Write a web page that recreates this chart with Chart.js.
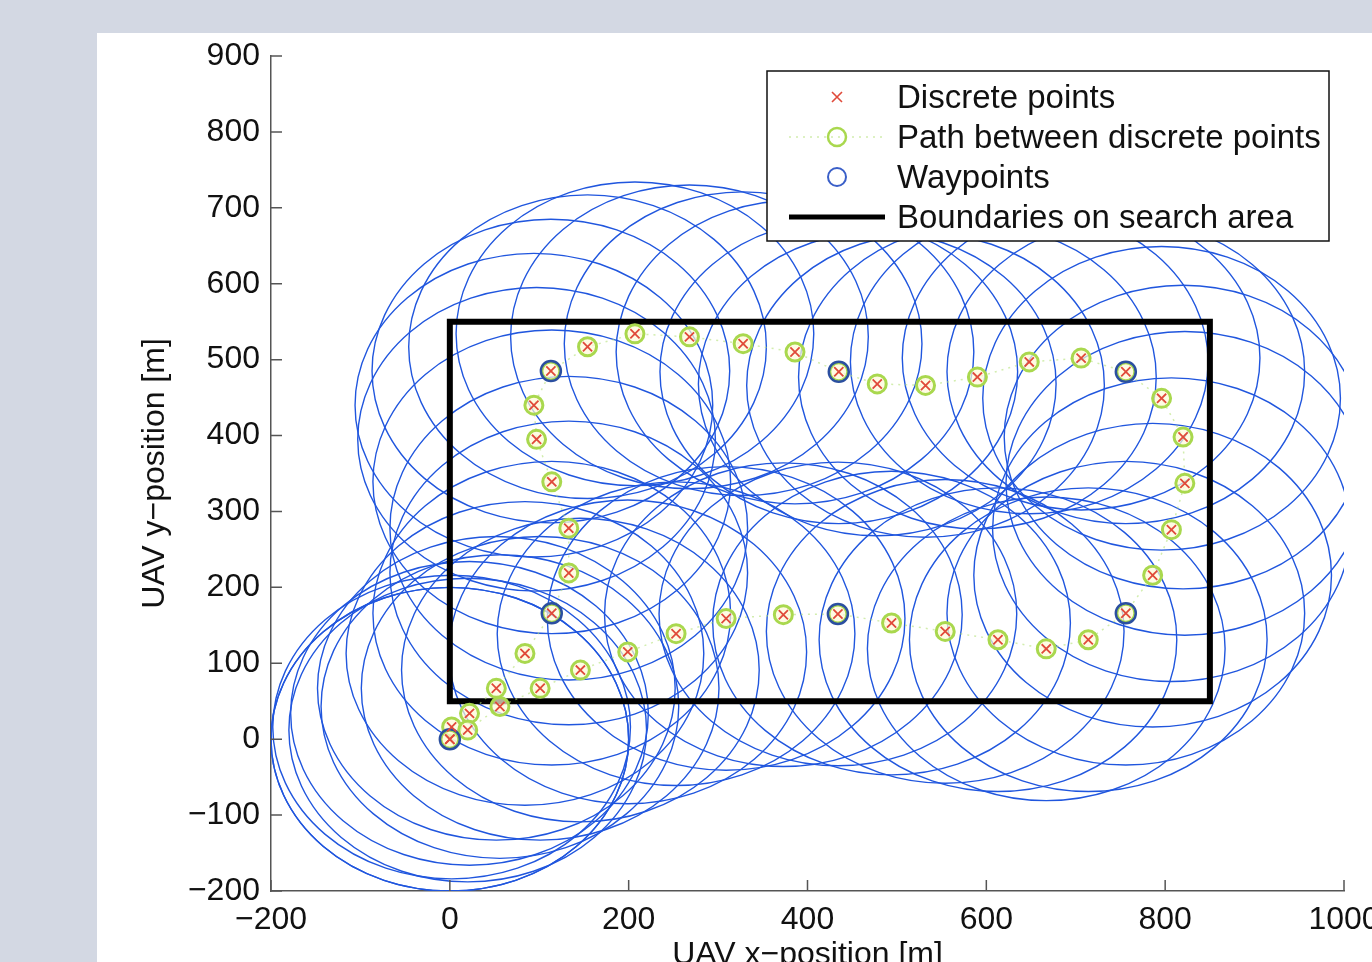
<!DOCTYPE html>
<html>
<head>
<meta charset="utf-8">
<script src="https://cdn.jsdelivr.net/npm/chart.js@4.4.1/dist/chart.umd.min.js"></script>
<style>
html, body { margin: 0; padding: 0; width: 1372px; height: 962px; overflow: hidden; background: #d3d8e3; }
#panel { position: absolute; left: 97px; top: 33px; width: 1320px; height: 990px; background: #fff; }
</style>
</head>
<body>
<div id="panel"><canvas id="grafik" width="1320" height="990"></canvas></div>
<script>
const xTicks = [-200, 0, 200, 400, 600, 800, 1000];
const yTicks = [-200, -100, 0, 100, 200, 300, 400, 500, 600, 700, 800, 900];

// discrete points along the path (m), in flight order
const titikX = [0, 2, 22, 52, 84, 114, 133, 133, 114, 97, 94, 113, 154, 207, 268, 328, 386, 435,
    478, 532, 590, 648, 706, 756, 796, 820, 822, 807, 786, 756, 714, 667, 613, 554, 494, 434,
    373, 309, 253, 199, 146, 101, 56, 20, 0];
const titikY = [0, 16, 34, 67, 113, 166, 219, 278, 339, 395, 440, 485, 517, 534, 530, 521, 510, 484,
    468, 466, 477, 497, 502, 484, 449, 398, 337, 276, 216, 166, 131, 119, 131, 142, 153, 165,
    164, 159, 139, 115, 91, 67, 43, 12, 0];

const waypointX = [0, 114, 113, 435, 756, 756, 434];
const waypointY = [0, 166, 485, 484, 484, 166, 165];

const batasX = [0, 850, 850, 0, 0];
const batasY = [50, 50, 550, 550, 50];

const jariJari = 200; // sensor radius [m]

const fontUtama = 'Liberation Sans, Arial, Helvetica, sans-serif';
const warnaAxis = '#555';

const toXY = (xs, ys) => xs.map((v, i) => ({ x: v, y: ys[i] }));
const minus = v => String(v).replace('-', '\u2212');

// circles of radius 200 m round every discrete point
const lingkaran = {
    id: 'lingkaran',
    beforeDatasetsDraw(chart) {
        const { ctx, chartArea: a, scales: { x, y } } = chart;
        ctx.save();
        ctx.beginPath();
        ctx.rect(a.left, a.top, a.width, a.height);
        ctx.clip();
        ctx.strokeStyle = 'rgb(32, 86, 222)';
        ctx.lineWidth = 1.4;
        titikX.forEach((tx, i) => {
            const cx = x.getPixelForValue(tx);
            const cy = y.getPixelForValue(titikY[i]);
            const rx = x.getPixelForValue(tx + jariJari) - cx;
            const ry = cy - y.getPixelForValue(titikY[i] + jariJari);
            ctx.beginPath();
            ctx.ellipse(cx, cy, rx, ry, 0, 0, Math.PI * 2);
            ctx.stroke();
        });
        ctx.restore();

        // inward ticks, matlab style
        ctx.save();
        ctx.strokeStyle = warnaAxis;
        ctx.lineWidth = 1.5;
        ctx.beginPath();
        xTicks.forEach(v => {
            const px = x.getPixelForValue(v);
            ctx.moveTo(px, a.bottom);
            ctx.lineTo(px, a.bottom - 11);
        });
        yTicks.forEach(v => {
            const py = y.getPixelForValue(v);
            ctx.moveTo(a.left, py);
            ctx.lineTo(a.left + 11, py);
        });
        ctx.stroke();
        ctx.restore();
    }
};

const legendBox = {
    id: 'legendBox',
    afterDraw(chart) {
        const { ctx, chartArea: a } = chart;
        const w = 562, h = 170;
        const x0 = a.right - 15 - w, y0 = a.top + 15;
        ctx.save();
        ctx.fillStyle = '#fff';
        ctx.fillRect(x0, y0, w, h);
        ctx.strokeStyle = '#111';
        ctx.lineWidth = 1.5;
        ctx.strokeRect(x0, y0, w, h);

        const mx = x0 + 70;
        const rows = [
            'Discrete points',
            'Path between discrete points',
            'Waypoints',
            'Boundaries on search area'
        ];
        // discrete points
        let my = y0 + 26;
        ctx.strokeStyle = '#e04a3a';
        ctx.lineWidth = 1.6;
        ctx.beginPath();
        ctx.moveTo(mx - 5, my - 5); ctx.lineTo(mx + 5, my + 5);
        ctx.moveTo(mx - 5, my + 5); ctx.lineTo(mx + 5, my - 5);
        ctx.stroke();
        // path
        my = y0 + 66;
        ctx.strokeStyle = 'rgba(180, 225, 120, 0.6)';
        ctx.setLineDash([2, 5]);
        ctx.beginPath();
        ctx.moveTo(x0 + 22, my); ctx.lineTo(x0 + 118, my);
        ctx.stroke();
        ctx.setLineDash([]);
        ctx.strokeStyle = '#a9d84e';
        ctx.lineWidth = 2.5;
        ctx.beginPath();
        ctx.arc(mx, my, 9, 0, Math.PI * 2);
        ctx.stroke();
        // waypoints
        my = y0 + 106;
        ctx.strokeStyle = '#3a5fc8';
        ctx.lineWidth = 2;
        ctx.beginPath();
        ctx.arc(mx, my, 9, 0, Math.PI * 2);
        ctx.stroke();
        // boundary
        my = y0 + 146;
        ctx.strokeStyle = '#000';
        ctx.lineWidth = 5;
        ctx.beginPath();
        ctx.moveTo(x0 + 22, my); ctx.lineTo(x0 + 118, my);
        ctx.stroke();

        ctx.fillStyle = '#111';
        ctx.font = '33px ' + fontUtama;
        ctx.textBaseline = 'middle';
        rows.forEach((t, i) => ctx.fillText(t, x0 + 130, y0 + 28 + i * 40));
        ctx.restore();
    }
};

const ctx = document.getElementById('grafik').getContext('2d');
const chart = new Chart(ctx, {
    type: 'scatter',
    data: {
        datasets: [{
            label: 'Discrete points',
            data: toXY(titikX, titikY),
            pointStyle: 'crossRot',
            pointRadius: 6.5,
            pointBorderColor: '#e04a3a',
            pointBorderWidth: 1.8,
            order: 0
        }, {
            label: 'Waypoints',
            data: toXY(waypointX, waypointY),
            pointStyle: 'circle',
            pointRadius: 10,
            pointBorderColor: '#2b4fa0',
            pointBackgroundColor: 'rgba(0,0,0,0)',
            pointBorderWidth: 2.5,
            order: 1
        }, {
            label: 'Path between discrete points',
            data: toXY(titikX, titikY),
            showLine: true,
            borderColor: 'rgba(180, 225, 120, 0.6)',
            borderDash: [2, 5],
            borderWidth: 1.5,
            pointStyle: 'circle',
            pointRadius: 9,
            pointBorderColor: '#a9d84e',
            pointBackgroundColor: 'rgba(255, 250, 215, 0.7)',
            pointBorderWidth: 3,
            order: 2
        }, {
            label: 'Boundaries on search area',
            data: toXY(batasX, batasY),
            showLine: true,
            borderColor: '#000',
            borderWidth: 6,
            borderJoinStyle: 'miter',
            borderCapStyle: 'square',
            pointRadius: 0,
            order: 3
        }]
    },
    options: {
        responsive: false,
        animation: false,
        layout: { padding: { left: 0, top: 23, right: 73, bottom: 32 } },
        plugins: {
            legend: { display: false },
            tooltip: { enabled: false }
        },
        scales: {
            x: {
                type: 'linear',
                min: -200,
                max: 1000,
                afterBuildTicks: s => { s.ticks = xTicks.map(v => ({ value: v })); },
                afterFit: s => { s.height = 100; s.paddingLeft = 0; s.paddingRight = 0; },
                grid: { drawOnChartArea: false, drawTicks: false },
                border: { color: warnaAxis, width: 1.5 },
                ticks: {
                    padding: 10,
                    color: '#111',
                    maxRotation: 0,
                    font: { size: 32, family: fontUtama },
                    callback: v => minus(v)
                },
                title: {
                    display: true,
                    text: 'UAV x\u2212position [m]',
                    color: '#111',
                    padding: { bottom: 17 },
                    font: { size: 32, family: fontUtama }
                }
            },
            y: {
                type: 'linear',
                min: -200,
                max: 900,
                afterBuildTicks: s => { s.ticks = yTicks.map(v => ({ value: v })); },
                afterFit: s => { s.width = 174; s.paddingTop = 0; s.paddingBottom = 0; },
                grid: { drawOnChartArea: false, drawTicks: false },
                border: { color: warnaAxis, width: 1.5 },
                ticks: {
                    padding: 11,
                    color: '#111',
                    font: { size: 32, family: fontUtama },
                    callback: v => minus(v)
                },
                title: {
                    display: true,
                    text: 'UAV y\u2212position [m]',
                    color: '#111',
                    padding: { top: 39 },
                    font: { size: 32, family: fontUtama }
                }
            }
        }
    },
    plugins: [lingkaran, legendBox]
});
</script>
</body>
</html>
